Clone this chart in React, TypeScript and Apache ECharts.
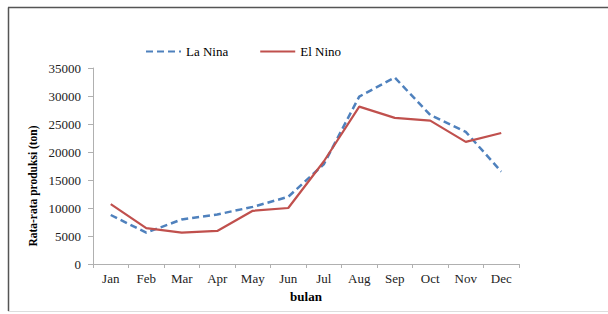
import React, { useEffect, useRef } from "react";
import * as echarts from "echarts";

const months = ["Jan", "Feb", "Mar", "Apr", "May", "Jun", "Jul", "Aug", "Sep", "Oct", "Nov", "Dec"];
const laNina = [8750, 5600, 7950, 8850, 10200, 12000, 17800, 29900, 33300, 26600, 23600, 16500];
const elNino = [10700, 6400, 5600, 5900, 9500, 10000, 18300, 28100, 26100, 25600, 21800, 23400];
const yTicks = { min: 0, max: 35000, interval: 5000 };

const serif = "'Liberation Serif', 'Times New Roman', serif";

export default function App() {
  const ref = useRef<HTMLDivElement>(null);
  useEffect(() => {
    if (!ref.current) return;
    const chart = echarts.init(ref.current, null, { renderer: "svg" });
    chart.setOption({
      animation: false,
      backgroundColor: "#ffffff",
      textStyle: { fontFamily: serif },
      graphic: [
        { type: "line", shape: { x1: 8.5, y1: 7.5, x2: 8.5, y2: 311 }, style: { stroke: "#555", lineWidth: 1.5 } },
        { type: "line", shape: { x1: 8, y1: 7.5, x2: 608, y2: 7.5 }, style: { stroke: "#555", lineWidth: 1.5 } },
        { type: "line", shape: { x1: 8, y1: 311.5, x2: 608, y2: 311.5 }, style: { stroke: "#ddd", lineWidth: 1 } },
        {
          type: "text",
          x: 33,
          y: 186,
          rotation: Math.PI / 2,
          style: {
            text: "Rata-rata produksi (ton)",
            font: `bold 11.5px ${serif}`,
            fill: "#000",
            align: "center",
            verticalAlign: "middle",
          },
        },
      ],
      legend: {
        left: 140,
        top: 40,
        itemWidth: 35,
        itemHeight: 3,
        itemGap: 31,
        itemStyle: { opacity: 0 },
        textStyle: { fontFamily: serif, fontSize: 13, color: "#000" },
        data: ["La Nina", "El Nino"],
      },
      grid: { left: 93, right: 89, top: 68, bottom: 50 },
      xAxis: {
        type: "category",
        data: months,
        boundaryGap: true,
        name: "bulan",
        nameLocation: "middle",
        nameGap: 26,
        nameTextStyle: { fontFamily: serif, fontSize: 13, fontWeight: "bold", color: "#000" },
        axisLine: { lineStyle: { color: "#b0b0b0", width: 1 } },
        axisTick: { show: true, alignWithLabel: false, length: 4, lineStyle: { color: "#b0b0b0" } },
        axisLabel: { fontFamily: serif, fontSize: 13, color: "#222", margin: 8 },
        splitLine: { show: false },
      },
      yAxis: {
        type: "value",
        min: yTicks.min,
        max: yTicks.max,
        interval: yTicks.interval,
        axisLine: { show: true, lineStyle: { color: "#b0b0b0", width: 1 } },
        axisTick: { show: true, length: 5, lineStyle: { color: "#b0b0b0" } },
        axisLabel: {
          fontFamily: serif,
          fontSize: 13,
          color: "#222",
          margin: 12,
          formatter: (v: number) => String(v),
        },
        splitLine: { show: false },
      },
      series: [
        {
          name: "La Nina",
          type: "line",
          data: laNina,
          symbol: "none",
          itemStyle: { color: "#4F81BD" },
          lineStyle: { color: "#4F81BD", width: 2.5, type: [7, 4] },
          z: 2,
        },
        {
          name: "El Nino",
          type: "line",
          data: elNino,
          symbol: "none",
          itemStyle: { color: "#C0504D" },
          lineStyle: { color: "#C0504D", width: 2.2 },
          z: 3,
        },
      ],
    });
    return () => chart.dispose();
  }, []);
  return (
    <div
      ref={ref}
      style={{ position: "fixed", left: 0, top: 0, width: 608, height: 314, background: "#fff" }}
    />
  );
}
